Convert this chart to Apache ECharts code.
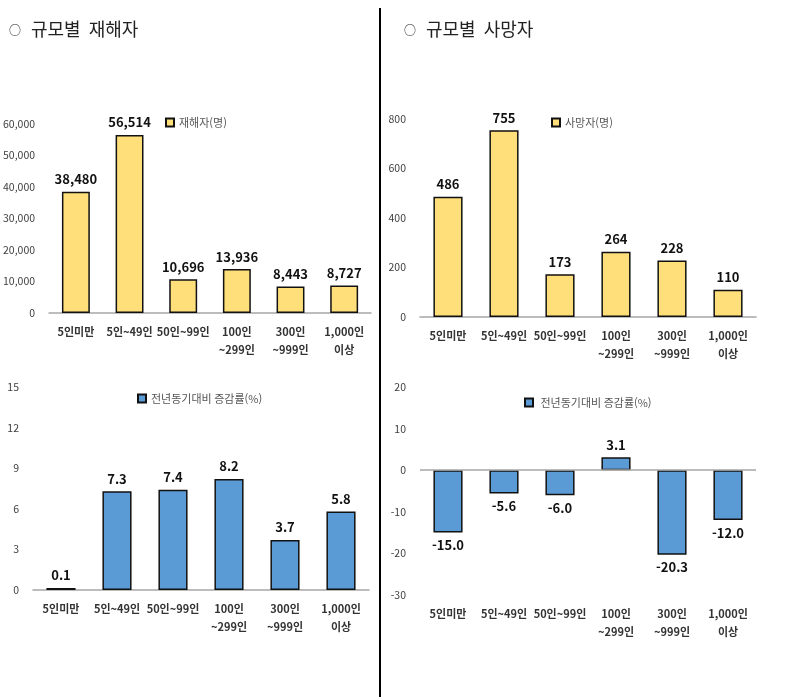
<!DOCTYPE html>
<html lang="ko">
<head>
  <meta charset="UTF-8" />
  <title>규모별 재해자 · 사망자</title>
  <script src="https://cdn.jsdelivr.net/npm/echarts@6/dist/echarts.min.js"></script>
  <style>
    html, body { margin: 0; padding: 0; background: #fff; }
    #chart { width: 800px; height: 697px; }
  </style>
</head>
<body>
  <div id="chart"></div>
  <script>
    // data
    const categories = ['5인미만', '5인~49인', '50인~99인', '100인\n~299인', '300인\n~999인', '1,000인\n이상'];
    const injured = [38480, 56514, 10696, 13936, 8443, 8727];
    const injuredRate = [0.1, 7.3, 7.4, 8.2, 3.7, 5.8];
    const deaths = [486, 755, 173, 264, 228, 110];
    const deathsRate = [-15.0, -5.6, -6.0, 3.1, -20.3, -12.0];

    const FONT = '"Noto Sans CJK KR", "Noto Sans", sans-serif';
    const YELLOW = '#FFDF7A';
    const BLUE = '#5B9BD5';

    const grids = [
      { left: 47, right: 429, top: 124, bottom: 384 },
      { left: 420, right: 44, top: 119, bottom: 380 },
      { left: 33, right: 431, top: 387, bottom: 107 },
      { left: 420, right: 44, top: 387, bottom: 102 }
    ];

    function xAx(i) {
      return {
        type: 'category', gridIndex: i, data: categories,
        axisTick: { show: false },
        axisLine: { show: i !== 3, onZero: false, lineStyle: { color: '#A6A6A6', width: 1.5 } },
        axisLabel: { interval: 0, color: '#333', fontFamily: FONT, fontSize: 11, fontWeight: 'bold', lineHeight: 18, margin: 10 }
      };
    }
    function yAx(i, min, max, interval, fmt) {
      return {
        type: 'value', gridIndex: i, min: min, max: max, interval: interval,
        splitLine: { show: false }, axisLine: { show: false }, axisTick: { show: false },
        axisLabel: { color: '#404040', fontFamily: FONT, fontSize: 10.5, margin: 14, formatter: fmt }
      };
    }
    function bars(i, name, values, color, fmt, zero) {
      const s = {
        type: 'bar', name: name, xAxisIndex: i, yAxisIndex: i, barWidth: '52%',
        barMinHeight: 2,
        itemStyle: { color: color, borderColor: '#111', borderWidth: 1.5 },
        data: values.map(v => ({
          value: v,
          label: { position: v < 0 ? 'bottom' : 'top' }
        })),
        label: {
          show: true, distance: 6, color: '#111', fontFamily: FONT, fontSize: 13, fontWeight: 'bold',
          formatter: p => fmt(p.value)
        }
      };
      if (zero) {
        s.markLine = {
          silent: true, symbol: 'none', label: { show: false },
          lineStyle: { color: '#A6A6A6', width: 1.5, type: 'solid' },
          data: [{ yAxis: 0 }]
        };
      }
      return s;
    }
    function legend(name, left, top) {
      return {
        data: [name], left: left, top: top, icon: 'rect', itemWidth: 8, itemHeight: 8, itemGap: 2,
        textStyle: { color: '#555', fontFamily: FONT, fontSize: 11 }
      };
    }
    function heading(text, left) {
      return {
        text: '{c|○}' + text, left: left, top: 15,
        textStyle: {
          fontFamily: FONT, fontSize: 18, fontWeight: 'normal', color: '#222',
          rich: { c: { fontFamily: FONT, fontSize: 12, color: '#222', padding: [2, 10, 0, 0] } }
        }
      };
    }

    const comma = v => v.toLocaleString('en-US');
    const oneDec = v => v.toFixed(1);

    const chart = echarts.init(document.getElementById('chart'));
    chart.setOption({
      animation: false,
      title: [
        heading('규모별  재해자', 4),
        heading('규모별  사망자', 399)
      ],
      graphic: [{
        type: 'line', shape: { x1: 380, y1: 8, x2: 380, y2: 697 },
        style: { stroke: '#000', lineWidth: 2 }
      }],
      legend: [
        legend('재해자(명)', 160, 112),
        legend('사망자(명)', 546, 112),
        legend('전년동기대비 증감률(%)', 132, 388),
        legend(' 전년동기대비 증감률(%)', 519, 392)
      ],
      grid: grids,
      xAxis: [xAx(0), xAx(1), xAx(2), xAx(3)],
      yAxis: [
        yAx(0, 0, 60000, 10000, v => comma(v)),
        yAx(1, 0, 800, 200),
        yAx(2, 0, 15, 3),
        yAx(3, -30, 20, 10)
      ],
      series: [
        bars(0, '재해자(명)', injured, YELLOW, comma),
        bars(1, '사망자(명)', deaths, YELLOW, v => String(v)),
        bars(2, '전년동기대비 증감률(%)', injuredRate, BLUE, oneDec),
        bars(3, ' 전년동기대비 증감률(%)', deathsRate, BLUE, oneDec, true)
      ]
    });
  </script>
</body>
</html>
